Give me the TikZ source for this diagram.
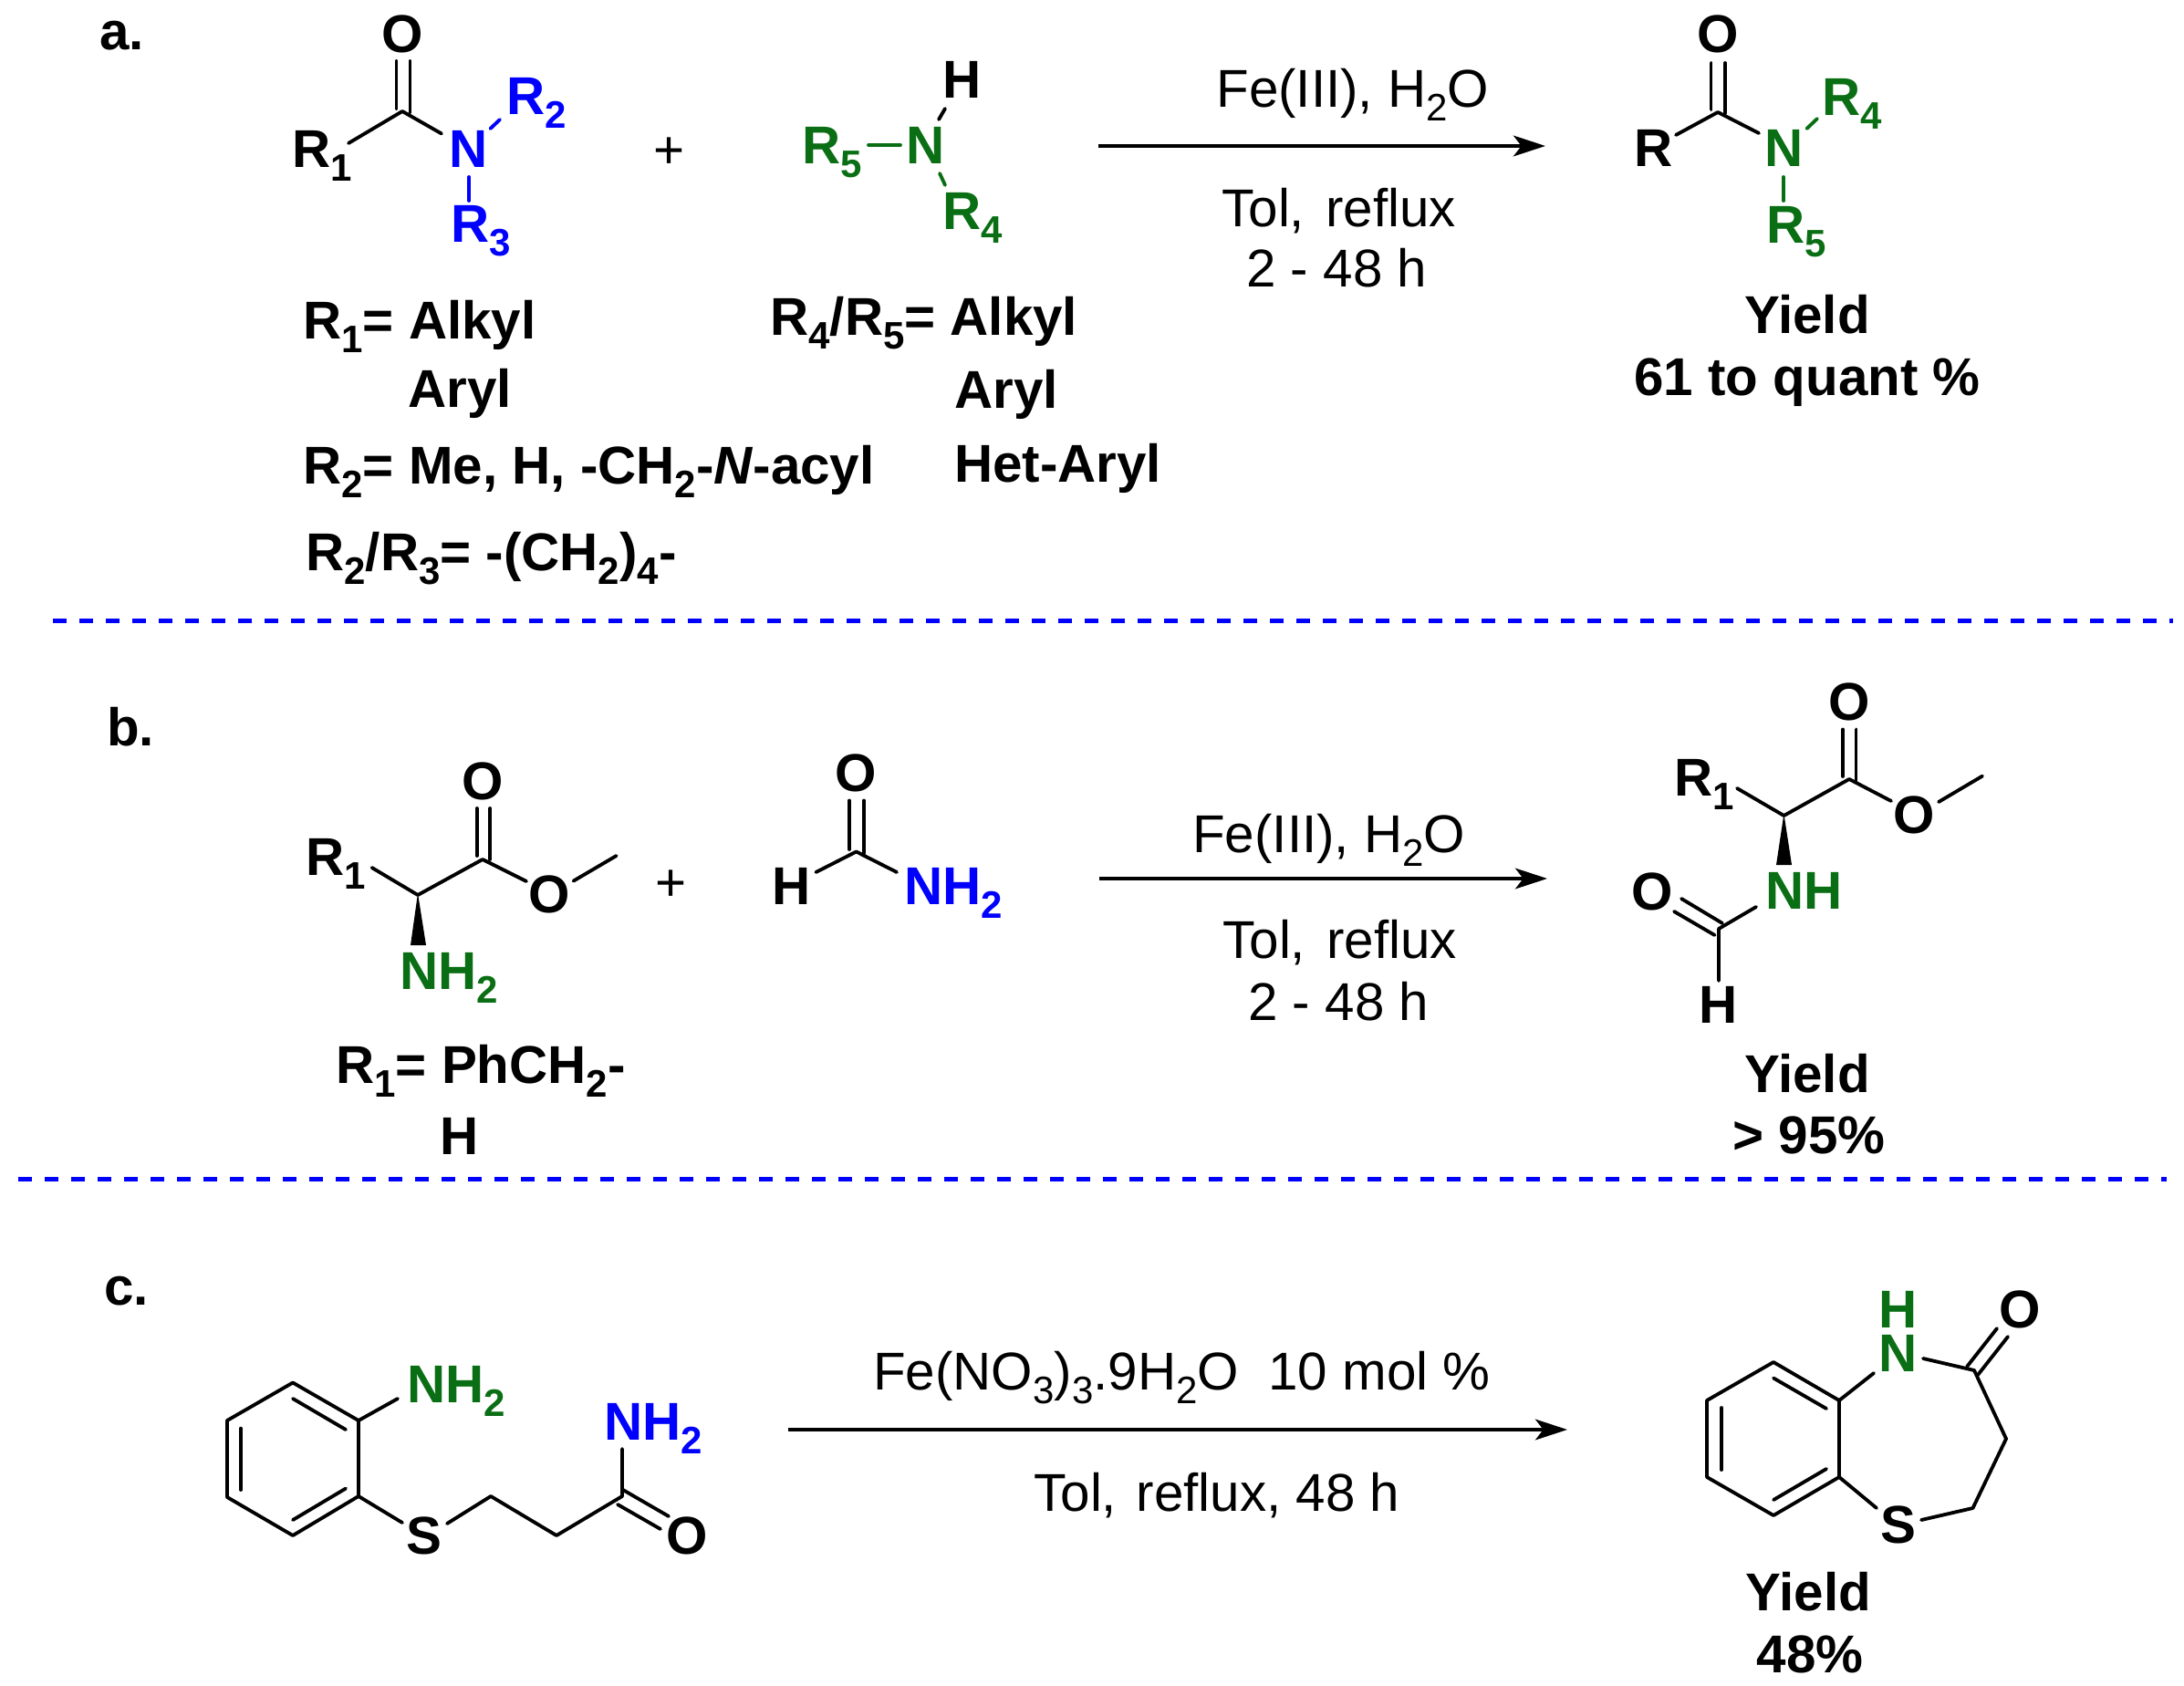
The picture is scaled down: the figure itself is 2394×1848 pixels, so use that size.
\documentclass[tikz,border=0pt]{standalone}
\usepackage{fontspec}
\setmainfont{Liberation Sans}
\usetikzlibrary{arrows.meta}
\definecolor{chemgreen}{RGB}{10,110,20}
\definecolor{chemblue}{RGB}{0,0,255}
\newcommand{\sbs}[1]{\raisebox{-4.5pt}{\fontsize{12.6}{14}\selectfont #1}}
\tikzset{
  txt/.style={inner sep=0pt,outer sep=0pt,text=black,font=\fontsize{17.5}{20}\selectfont\bfseries},
  lbl/.style={txt,anchor=base west,xshift=-0.8pt},
  mid/.style={txt,anchor=base},
  reg/.style={lbl,font=\fontsize{17.5}{20}\selectfont},
  plussign/.style={txt,anchor=base,font=\fontsize{17.5}{20}\selectfont},
  grn/.style={text=chemgreen},
  blu/.style={text=chemblue},
  bond/.style={line width=1.15pt,line cap=round,line join=round,draw=black},
  gbond/.style={bond,draw=chemgreen},
  bbond/.style={bond,draw=chemblue},
  rxn/.style={line width=1.15pt,draw=black,-{Stealth[length=10.5pt,width=6.8pt,inset=2.6pt]}},
  sep/.style={draw=chemblue,line width=1.5pt,dash pattern=on 4.4pt off 4.3pt},
  wedge/.style={fill=black,draw=none}
}
\begin{document}
\begin{tikzpicture}[x=0.3pt,y=-0.3pt]
\useasboundingbox (0,0) rectangle (2394,1848);
% ---------- separators
\coordinate (s1a) at (58,681); \coordinate (s1b) at (2382,681);
\coordinate (s2a) at (20,1292); \coordinate (s2b) at (2375,1292);
\draw[sep] (s1a) -- (s1b);
\draw[sep] (s2a) -- (s2b);
% ---------- panel a
\node[lbl] (la) at (112,55) {a.};
\node[mid] (a1O) at (441,57.5) {O};
\node[lbl] (a1R1) at (323,184) {R\sbs{1}};
\node[mid,blu] (a1N) at (514,184) {N};
\node[lbl,blu] (a1R2) at (558,126) {R\sbs{2}};
\node[lbl,blu] (a1R3) at (497,266) {R\sbs{3}};
\draw[bond] (434.5,67) -- (434.5,119);
\draw[bond] (449.5,67) -- (449.5,123);
\draw[bond] (382,157) -- (441,122) -- (484,146.5);
\draw[bbond] (537.5,141) -- (548,131);
\draw[bbond] (514,194) -- (514,220);
\node[plussign] (aplus) at (734,185) {+};
\node[lbl] (a2H) at (1036,108) {H};
\node[lbl,grn] (a2N) at (996,180) {N};
\node[lbl,grn] (a2R5) at (882,180) {R\sbs{5}};
\node[lbl,grn] (a2R4) at (1036,252) {R\sbs{4}};
\draw[gbond] (952,159) -- (987,159);
\draw[bond] (1029,131) -- (1036,119);
\draw[gbond] (1030,190) -- (1036,203);
\node[lbl] (a3) at (335,371.5) {R\sbs{1}= Alkyl};
\node[lbl] (a4) at (450,447) {Aryl};
\node[lbl] (a5) at (335,531) {R\sbs{2}= Me, H, -CH\sbs{2}-\textit{N}-acyl};
\node[lbl] (a6) at (338,626) {R\sbs{2}/R\sbs{3}= -(CH\sbs{2})\sbs{4}-};
\node[lbl] (a7) at (847,367.5) {R\sbs{4}/R\sbs{5}= Alkyl};
\node[lbl] (a8) at (1049,448) {Aryl};
\node[lbl] (a9) at (1049,529) {Het-Aryl};
\coordinate (arA1) at (1204,160); \coordinate (arA2) at (1694,160);
\draw[rxn] (arA1) -- (arA2);
\node[reg] (a10) at (1336,118) {Fe(III), H\sbs{2}O};
\node[reg] (a11) at (1342,249) {Tol,\hspace{7pt}reflux};
\node[reg] (a12) at (1369,315) {2 - 48 h};
\node[mid] (a3O) at (1883,57.5) {O};
\node[lbl] (a3R) at (1794,183) {R};
\node[mid,grn] (a3N) at (1956,183) {N};
\node[lbl,grn] (a3R4) at (2000,127) {R\sbs{4}};
\node[lbl,grn] (a3R5) at (1939,266.5) {R\sbs{5}};
\draw[bond] (1875.5,69) -- (1875.5,120);
\draw[bond] (1891,69) -- (1891,124);
\draw[bond] (1837,148) -- (1883,123) -- (1928,146);
\draw[gbond] (1980.5,141) -- (1992,130);
\draw[gbond] (1955,194) -- (1955,220);
\node[mid] (a13) at (1981,366) {Yield};
\node[mid] (a14) at (1981,433.5) {61 to quant \%};
% ---------- panel b
\node[lbl] (lb) at (120,817.5) {b.};
\node[mid] (b1O) at (529,876) {O};
\node[lbl] (b1R1) at (338,959.5) {R\sbs{1}};
\node[mid] (b1O2) at (602,1000.5) {O};
\node[lbl,grn] (b1N) at (441,1084.5) {NH\sbs{2}};
\draw[bond] (522.7,886) -- (522.7,938);
\draw[bond] (537.4,886) -- (537.4,942);
\draw[bond] (407.6,951) -- (458,981) -- (529,942) -- (577,966);
\draw[bond] (628.6,965.6) -- (675.6,938);
\fill[wedge] (458,979) -- (467,1036) -- (450,1036) -- cycle;
\node[plussign] (bplus) at (736,987) {+};
\node[mid] (b2O) at (938.6,867) {O};
\node[lbl] (b2H) at (849.5,991.7) {H};
\node[lbl,blu] (b2N) at (994,991.7) {NH\sbs{2}};
\draw[bond] (931,877.5) -- (931,931);
\draw[bond] (947,877.5) -- (947,935);
\draw[bond] (894.4,956) -- (938.6,933.5) -- (983,956);
\node[lbl] (b3) at (371,1187.5) {R\sbs{1}= PhCH\sbs{2}-};
\node[lbl] (b4) at (485.5,1265) {H};
\coordinate (arB1) at (1205,963); \coordinate (arB2) at (1696,963);
\draw[rxn] (arB1) -- (arB2);
\node[reg] (b5) at (1310,934) {Fe(III), H\sbs{2}O};
\node[reg] (b6) at (1343,1050.5) {Tol,\hspace{7pt}reflux};
\node[reg] (b7) at (1371,1118) {2 - 48 h};
\node[mid] (b8O) at (2027,789.5) {O};
\node[lbl] (b8R) at (1838,872.5) {R\sbs{1}};
\node[mid] (b8O2) at (2098,913) {O};
\node[lbl,grn] (b8N) at (1938,996.4) {NH};
\node[mid] (b8O3) at (1811.5,997.5) {O};
\node[mid] (b8H) at (1883.5,1121) {H};
\draw[bond] (2020,799.5) -- (2020,851);
\draw[bond] (2034.5,799.5) -- (2034.5,856);
\draw[bond] (1904,864) -- (1955.4,894) -- (2027,854) -- (2073,878);
\draw[bond] (2125,879) -- (2173,850.6);
\fill[wedge] (1955.4,892) -- (1964,948) -- (1947,948) -- cycle;
\draw[bond] (1925,994) -- (1884,1018) -- (1884,1075);
\draw[bond] (1843,985) -- (1888,1012);
\draw[bond] (1835,999) -- (1879.5,1025);
\node[mid] (b9) at (1981,1197) {Yield};
\node[mid] (b10) at (1983,1264.6) {> 95\%};
% ---------- panel c
\node[lbl] (lc) at (117,1430) {c.};
\draw[bond] (321,1515.5) -- (393,1557) -- (393,1640) -- (321,1683) -- (249,1641) -- (249,1557) -- cycle;
\draw[bond] (321,1533) -- (379,1567);
\draw[bond] (264,1565.6) -- (264,1633);
\draw[bond] (321,1666) -- (379,1631.5);
\node[lbl,grn] (c1N) at (449,1537) {NH\sbs{2}};
\draw[bond] (393,1557) -- (436,1533);
\node[mid] (c1S) at (465,1703) {S};
\draw[bond] (393,1640) -- (441,1669);
\draw[bond] (490,1670) -- (538,1640) -- (610,1683) -- (682,1640) -- (682,1588);
\node[lbl,blu] (c2N) at (665,1578) {NH\sbs{2}};
\draw[bond] (682,1632.5) -- (733,1662);
\draw[bond] (677,1649) -- (724,1676);
\node[mid] (c1O) at (753,1703) {O};
\coordinate (arC1) at (863.5,1567); \coordinate (arC2) at (1718,1567);
\draw[rxn] (arC1) -- (arC2);
\node[reg] (c3) at (960,1523) {Fe(NO\sbs{3})\sbs{3}.9H\sbs{2}O\ \ 10 mol \%};
\node[reg] (c4) at (1136,1656) {Tol,\hspace{6.5pt}reflux, 48 h};
\draw[bond] (1944,1493) -- (2016,1535) -- (2016,1619) -- (1944,1661) -- (1871,1619) -- (1871,1535) -- cycle;
\draw[bond] (1944,1510.5) -- (2002,1544);
\draw[bond] (1887,1543) -- (1887,1611);
\draw[bond] (1944,1644) -- (2002,1610);
\node[mid,grn] (c5H) at (2080.6,1455) {H};
\node[mid,grn] (c5N) at (2080.6,1503) {N};
\node[mid] (c5S) at (2080.6,1691) {S};
\node[mid] (c5O) at (2214,1455) {O};
\draw[bond] (2016,1535) -- (2054,1505);
\draw[bond] (2108,1489) -- (2164,1502) -- (2199,1577) -- (2162.5,1653) -- (2106,1666);
\draw[bond] (2016,1619) -- (2057,1653);
\draw[bond] (2156,1498) -- (2189,1456);
\draw[bond] (2168,1507) -- (2201,1465);
\node[mid] (c6) at (1982.5,1765) {Yield};
\node[mid] (c7) at (1984,1833) {48\%};
\end{tikzpicture}
\end{document}
